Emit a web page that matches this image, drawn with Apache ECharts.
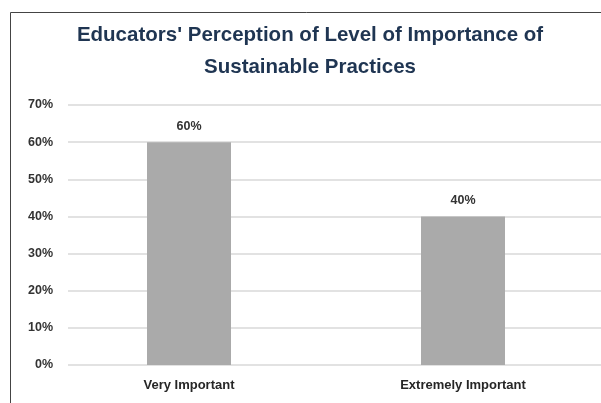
<!DOCTYPE html>
<html>
<head>
<meta charset="utf-8">
<script src="https://cdn.jsdelivr.net/npm/echarts@6/dist/echarts.min.js"></script>
<style>
  html, body { margin: 0; padding: 0; background: #fff; }
  #chart { width: 601px; height: 403px; }
</style>
</head>
<body>
<div id="chart"></div>
<script>
const categories = ["Very Important", "Extremely Important"];
const values = [60, 40];
const yTicks = [0, 10, 20, 30, 40, 50, 60, 70];

const chart = echarts.init(document.getElementById("chart"));

const labelFont = "'Liberation Sans', Arial, sans-serif";

chart.setOption({
  animation: false,
  title: {
    text: "Educators' Perception of Level of Importance of\nSustainable Practices",
    left: 305,
    textAlign: "center",
    top: 14,
    textStyle: {
      fontFamily: labelFont,
      fontSize: 20.5,
      fontWeight: "bold",
      color: "#1f3552",
      lineHeight: 32
    }
  },
  graphic: [{
    type: "rect",
    shape: { x: 10.5, y: 12.5, width: 700, height: 500 },
    style: { fill: "none", stroke: "#444444", lineWidth: 1 },
    silent: true
  }],
  grid: [
    // gridlines and y labels
    { left: 68, right: 0, top: 105, bottom: 38 },
    // bars and category labels
    { left: 52, right: 1, top: 105, bottom: 38 }
  ],
  xAxis: [
    { type: "category", gridIndex: 0, data: categories, show: false },
    {
      type: "category",
      gridIndex: 1,
      data: categories,
      axisLine: { show: false },
      axisTick: { show: false },
      axisLabel: {
        margin: 14,
        fontFamily: labelFont,
        fontSize: 13,
        fontWeight: "bold",
        color: "#262626"
      }
    }
  ],
  yAxis: [
    {
      type: "value",
      gridIndex: 0,
      min: yTicks[0],
      max: yTicks[yTicks.length - 1],
      interval: 10,
      axisLine: { show: false },
      axisTick: { show: false },
      splitLine: { lineStyle: { color: "#d9d9d9", width: 1.5 } },
      axisLabel: {
        margin: 15,
        formatter: "{value}%",
        fontFamily: labelFont,
        fontSize: 12.5,
        fontWeight: "bold",
        color: "#333333"
      }
    },
    {
      type: "value",
      gridIndex: 1,
      min: yTicks[0],
      max: yTicks[yTicks.length - 1],
      interval: 10,
      show: false
    }
  ],
  series: [{
    type: "bar",
    xAxisIndex: 1,
    yAxisIndex: 1,
    data: values,
    barWidth: 84,
    itemStyle: { color: "#aaaaaa" },
    label: {
      show: true,
      position: "top",
      distance: 9,
      formatter: "{c}%",
      fontFamily: labelFont,
      fontSize: 12.5,
      fontWeight: "bold",
      color: "#333333"
    }
  }]
});
</script>
</body>
</html>
